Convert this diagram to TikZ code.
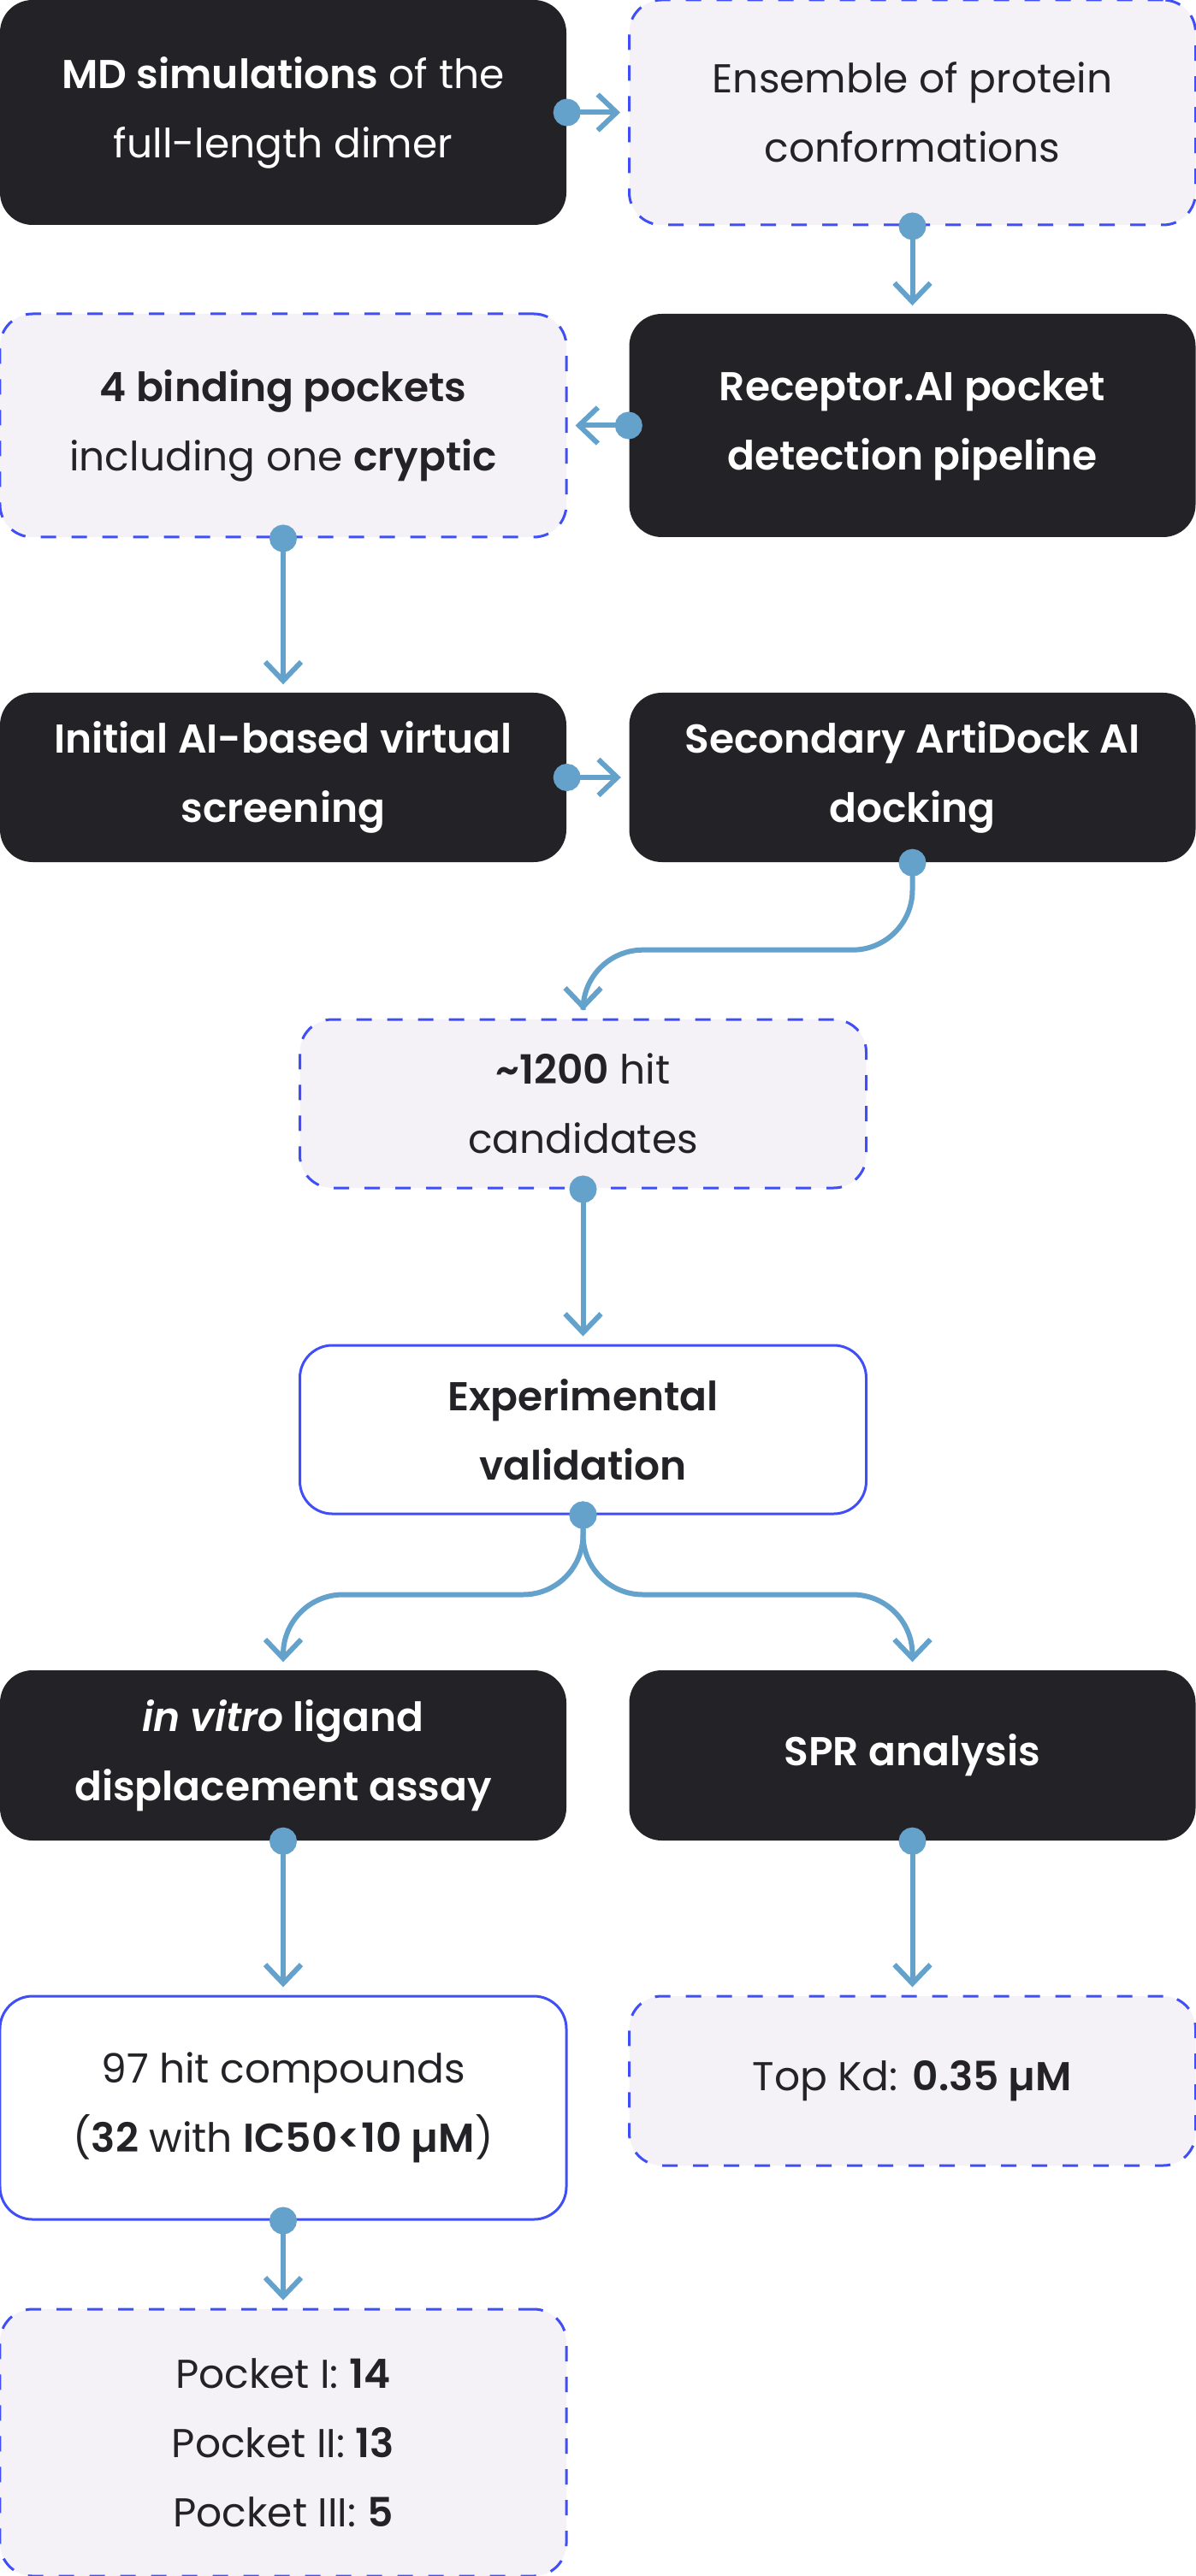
\documentclass[tikz,border=0pt]{standalone}
\usepackage{fontspec}
\setmainfont{Poppins}[BoldFont={Poppins SemiBold}, BoldItalicFont={Poppins SemiBold Italic}]
\usetikzlibrary{arrows.meta}

\definecolor{boxdark}{HTML}{232226}
\definecolor{boxsoft}{HTML}{F4F2F6}
\definecolor{edgeblue}{HTML}{3F4EF6}
\definecolor{linkblue}{HTML}{64A2CC}

\newcommand{\flowfont}{\fontsize{13.4}{23}\selectfont}

\tikzset{
  stage/.style={rectangle, rounded corners=0.38cm, minimum width=6.62cm, align=center, inner sep=0pt, font=\flowfont},
  darkstage/.style={stage, fill=boxdark, text=white},
  softstage/.style={stage, fill=boxsoft, draw=edgeblue, line width=0.03cm, dash pattern=on 0.18cm off 0.18cm, text=boxdark},
  openstage/.style={stage, fill=white, draw=edgeblue, line width=0.03cm, text=boxdark},
  link/.style={draw=linkblue, line width=0.06cm, {Circle[length=0.32cm]}-{Straight Barb[length=0.22cm,width=0.42cm]}, shorten <=-0.16cm, shorten >=0.09cm},
}

\begin{document}
\begin{tikzpicture}

  \useasboundingbox (0,0) rectangle (13.98,-30.12);

  % top rows
  \node[darkstage, minimum height=2.63cm] (md) at (3.31,-1.315) {\textbf{MD simulations} of the\\full-length dimer};
  \node[softstage, minimum height=2.63cm] (ens) at (10.665,-1.315) {Ensemble of protein\\conformations};
  \node[softstage, minimum height=2.61cm] (pock) at (3.31,-4.975) {\textbf{4 binding pockets}\\including one \textbf{cryptic}};
  \node[darkstage, minimum height=2.61cm] (rec) at (10.665,-4.975) {\textbf{Receptor.AI pocket}\\\textbf{detection pipeline}};

  % screening
  \node[darkstage, minimum height=1.98cm] (vs) at (3.31,-9.09) {\textbf{Initial AI-based virtual}\\\textbf{screening}};
  \node[darkstage, minimum height=1.98cm] (dock) at (10.665,-9.09) {\textbf{Secondary ArtiDock AI}\\\textbf{docking}};

  % middle column
  \node[softstage, minimum height=1.97cm] (hits) at (6.815,-12.905) {\textbf{\textasciitilde1200} hit\\candidates};
  \node[openstage, minimum height=1.97cm] (val) at (6.815,-16.715) {\textbf{Experimental}\\\textbf{validation}};

  % assays
  \node[darkstage, minimum height=1.99cm] (assay) at (3.31,-20.525) {\textbf{\textit{in vitro} ligand}\\\textbf{displacement assay}};
  \node[darkstage, minimum height=1.99cm] (spr) at (10.665,-20.525) {\textbf{SPR analysis}};

  % results
  \node[openstage, minimum height=2.61cm] (cpd) at (3.31,-24.645) {97 hit compounds\\(\textbf{32} with \textbf{IC50<10 µM})};
  \node[softstage, minimum height=1.98cm] (kd) at (10.665,-24.33) {Top Kd: \textbf{0.35 µM}};
  \node[softstage, minimum height=3.12cm] (split) at (3.31,-28.56) {Pocket I: \textbf{14}\\Pocket II: \textbf{13}\\Pocket III: \textbf{5}};

  % connectors
  \draw[link] (md.east) -- (ens.west);
  \draw[link] (ens.south) -- (rec.north);
  \draw[link] (rec.west) -- (pock.east);
  \draw[link] (pock.south) -- (vs.north);
  \draw[link] (vs.east) -- (dock.west);
  \draw[link, rounded corners=0.7cm] (dock.south) -- ++(0,-1.02) -| (hits.north);
  \draw[link] (hits.south) -- (val.north);
  \draw[link, rounded corners=0.7cm] (val.south) -- ++(0,-0.93) -| (assay.north);
  \draw[link, rounded corners=0.7cm] (val.south) -- ++(0,-0.93) -| (spr.north);
  \draw[link] (assay.south) -- (cpd.north);
  \draw[link] (spr.south) -- (kd.north);
  \draw[link] (cpd.south) -- (split.north);

\end{tikzpicture}
\end{document}
